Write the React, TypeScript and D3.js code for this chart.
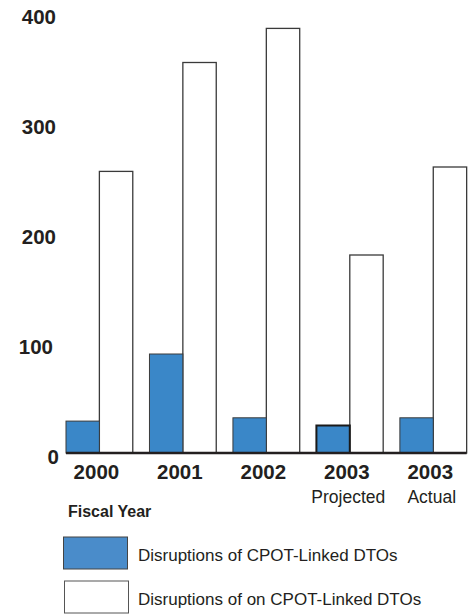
import React from "react";
import * as d3 from "d3";

// Fiscal year categories and their sub-captions
const years = ["2000", "2001", "2002", "2003", "2003"];
const subLabels = ["", "", "", "Projected", "Actual"];
const categoryKeys = ["fy2000", "fy2001", "fy2002", "fy2003p", "fy2003a"];

// Disruption counts per fiscal year
const cpotLinked = [29, 90, 32, 25, 32];
const nonCpotLinked = [256, 355, 386, 180, 260];

// Axis tick values
const yTicks = [0, 100, 200, 300, 400];

const seriesNames = [
  "Disruptions of CPOT-Linked DTOs",
  "Disruptions of on CPOT-Linked DTOs",
];

const WIDTH = 473;
const HEIGHT = 614;
const BLUE = "#3a87c8";
const LEGEND_BLUE = "#4a8cca";
const FONT = "'Liberation Sans', Arial, Helvetica, sans-serif";

export default function App() {
  const x = d3
    .scaleBand<string>()
    .domain(categoryKeys)
    .range([57.65, 475])
    .paddingInner(0.2)
    .paddingOuter(0.1);

  const sub = d3
    .scaleBand<number>()
    .domain([0, 1])
    .range([0, x.bandwidth()]);

  const y = d3.scaleLinear().domain([0, 400]).range([453, 13]);

  const bw = sub.bandwidth();

  return (
    <svg
      width={WIDTH}
      height={HEIGHT}
      style={{ position: "absolute", left: 0, top: 0, background: "#fff" }}
      fontFamily={FONT}
    >
      {/* y tick labels */}
      {yTicks.map((t) => (
        <text
          key={t}
          x={t === 0 ? 59 : t === 100 ? 53 : 56}
          y={y(t) + 10.5}
          textAnchor="end"
          fontSize={20.5}
          fontWeight="bold"
          fill="#231f20"
        >
          {t}
        </text>
      ))}

      {/* bars */}
      {categoryKeys.map((k, i) => {
        const x0 = x(k) as number;
        const projected = subLabels[i] === "Projected";
        return (
          <g key={k}>
            <rect
              x={x0 + (sub(1) as number)}
              y={y(nonCpotLinked[i])}
              width={bw}
              height={y(0) - y(nonCpotLinked[i])}
              fill="#fff"
              stroke="#3a3a3a"
              strokeWidth={1.3}
            />
            <rect
              x={x0 + (sub(0) as number)}
              y={y(cpotLinked[i])}
              width={bw}
              height={y(0) - y(cpotLinked[i])}
              fill={BLUE}
              stroke={projected ? "#1a1a1a" : "#3a3a3a"}
              strokeWidth={projected ? 2 : 1}
            />
          </g>
        );
      })}

      {/* baseline */}
      <line
        x1={x(categoryKeys[0]) as number}
        x2={(x(categoryKeys[categoryKeys.length - 1]) as number) + x.bandwidth()}
        y1={y(0)}
        y2={y(0)}
        stroke="#231f20"
        strokeWidth={2.5}
      />

      {/* x labels */}
      {categoryKeys.map((k, i) => {
        const cx = (x(k) as number) + x.bandwidth() / 2 - 3;
        return (
          <g key={k}>
            <text
              x={cx}
              y={479}
              textAnchor="middle"
              fontSize={20.5}
              fontWeight="bold"
              fill="#231f20"
            >
              {years[i]}
            </text>
            {subLabels[i] && (
              <text
                x={cx + 1.5}
                y={503}
                textAnchor="middle"
                fontSize={17.5}
                fill="#231f20"
              >
                {subLabels[i]}
              </text>
            )}
          </g>
        );
      })}

      {/* axis title */}
      <text x={68} y={516.5} fontSize={16} fontWeight="bold" fill="#231f20">
        Fiscal Year
      </text>

      {/* legend */}
      <rect
        x={63.5}
        y={537}
        width={64}
        height={32}
        fill={LEGEND_BLUE}
        stroke="#444"
        strokeWidth={1}
      />
      <text x={138} y={561} fontSize={17} fill="#231f20">
        {seriesNames[0]}
      </text>
      <rect
        x={64.5}
        y={581}
        width={64}
        height={32}
        fill="#fff"
        stroke="#555"
        strokeWidth={1}
      />
      <text x={138} y={605} fontSize={17} fill="#231f20">
        {seriesNames[1]}
      </text>
    </svg>
  );
}
